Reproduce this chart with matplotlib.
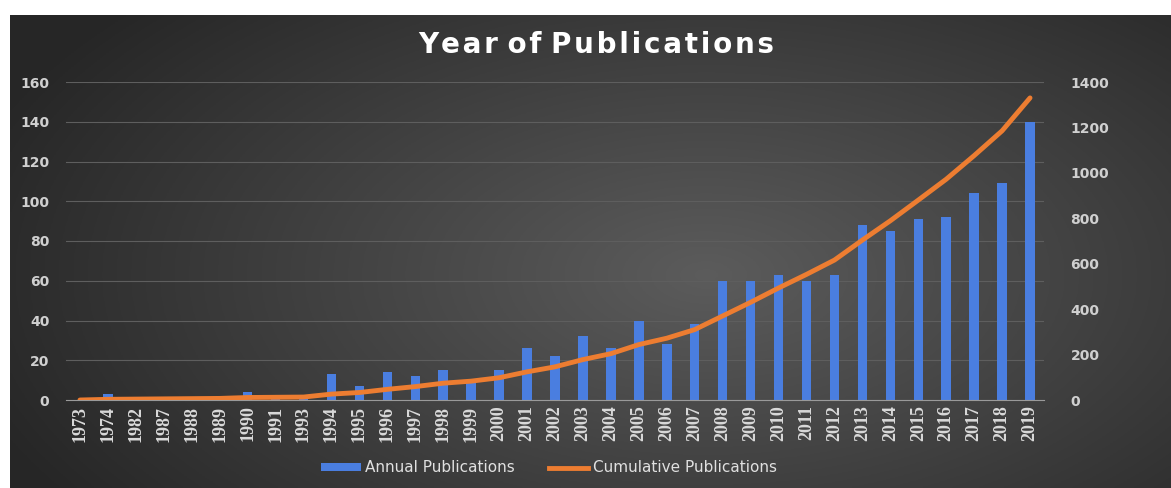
import numpy as np
import matplotlib
matplotlib.use("Agg")
import matplotlib.pyplot as plt
from matplotlib.lines import Line2D
from matplotlib.patches import Patch

years = ["1973", "1974", "1982", "1987", "1988", "1989", "1990", "1991", "1993",
         "1994", "1995", "1996", "1997", "1998", "1999", "2000", "2001", "2002",
         "2003", "2004", "2005", "2006", "2007", "2008", "2009", "2010", "2011",
         "2012", "2013", "2014", "2015", "2016", "2017", "2018", "2019"]
annual = [0, 3, 1, 1, 1, 1, 4, 1, 1,
          13, 7, 14, 12, 15, 9, 15, 26, 22,
          32, 26, 40, 28, 38, 60, 60, 63, 60,
          63, 88, 85, 91, 92, 104, 109, 140]
cumulative = [0, 3, 4, 5, 6, 7, 11, 12, 13,
              26, 33, 47, 59, 74, 83, 98, 124, 146,
              178, 204, 244, 272, 310, 370, 430, 493, 553,
              616, 704, 789, 880, 972, 1076, 1185, 1330]

W, H = 1171, 488
fig = plt.figure(figsize=(W / 100, H / 100), dpi=100, facecolor="white")

# dark radial-ish background of the chart area
bg = fig.add_axes([10 / W, 0, 1 - 10 / W, (H - 15) / H])
gx, gy = np.meshgrid(np.linspace(0, 1, 400), np.linspace(0, 1, 200))
d = np.sqrt(((gx - 0.6) / 0.7) ** 2 + ((gy - 0.45) / 0.9) ** 2)
shade = np.clip(0.36 - 0.22 * d, 0.15, 0.36)
bg.imshow(np.dstack([shade] * 3), aspect="auto", extent=[0, 1, 0, 1], origin="lower")
bg.set_axis_off()

x = np.arange(len(years))
ax = fig.add_axes([66 / W, 88 / H, (1044 - 66) / W, (400 - 82) / H])
ax.patch.set_alpha(0)
ax.bar(x, annual, width=0.34, color="#4a7ee0", zorder=2)
ax.set_xlim(-0.5, len(years) - 0.5)
ax.set_ylim(0, 160)
ax.set_yticks(range(0, 161, 20))
ax.grid(axis="y", color="#5e5e5e", linewidth=0.8, zorder=0)
ax.set_xticks(x)
ax.set_xticklabels(years, rotation=90, fontsize=13, color="#d9d9d9",
                   family=["Liberation Serif", "DejaVu Serif"], fontweight="bold")
ax.tick_params(axis="y", labelsize=10, colors="#d0d0d0", length=0, pad=12)
ax.tick_params(axis="x", length=0, pad=4)
for lbl in ax.get_yticklabels():
    lbl.set_fontweight("bold")
for s in ["top", "right", "left"]:
    ax.spines[s].set_visible(False)
ax.spines["bottom"].set_color("#9a9a9a")

ax2 = ax.twinx()
ax2.plot(x, cumulative, color="#ed7d31", linewidth=3.5, solid_capstyle="round", zorder=3)
ax2.set_ylim(0, 1400)
ax2.set_yticks(range(0, 1401, 200))
ax2.tick_params(axis="y", labelsize=10, colors="#d0d0d0", length=0, pad=19)
for lbl in ax2.get_yticklabels():
    lbl.set_fontweight("bold")
for s in ax2.spines.values():
    s.set_visible(False)

title = "\u200a".join("Year of Publications").replace("\u200a \u200a", " ")
fig.text(596 / W, 1 - 45 / H, title, ha="center", va="center",
         fontsize=20, fontweight="bold", color="white")

handles = [Patch(facecolor="#4a7ee0"),
           Line2D([0], [0], color="#ed7d31", linewidth=3.5)]
fig.legend(handles, ["Annual Publications", "Cumulative Publications"],
           loc="center", bbox_to_anchor=(549 / W, 1 - 468 / H), ncol=2, frameon=False,
           fontsize=11, labelcolor="#e0e0e0", handlelength=2.6, handleheight=0.45,
           handletextpad=0.3, columnspacing=2.2)

fig.savefig("out.png", dpi=100, facecolor="white")
